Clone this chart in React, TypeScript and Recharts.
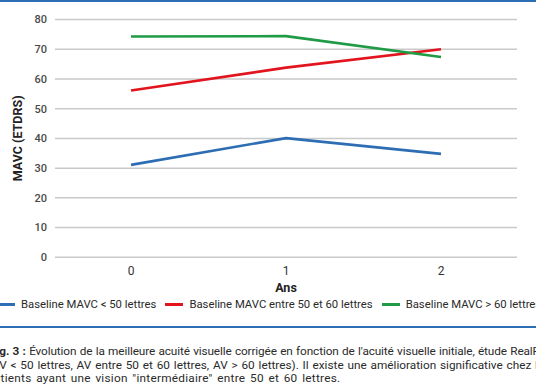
import React from 'react';
import { LineChart, Line, XAxis, YAxis, CartesianGrid, Legend } from 'recharts';

const years = ['0', '1', '2'];
const below50 = [31.1, 40.1, 34.8];
const between50and60 = [56.1, 63.8, 70.0];
const above60 = [74.3, 74.4, 67.4];
const yTicks = [0, 10, 20, 30, 40, 50, 60, 70, 80];

const seriesNames = [
  'Baseline MAVC < 50 lettres',
  'Baseline MAVC entre 50 et 60 lettres',
  'Baseline MAVC > 60 lettres',
];
const seriesKeys = ['below50', 'between', 'above60'];
const seriesColors = ['#2d6db3', '#e2141d', '#1f9a45'];

const data = years.map((y, i) => ({
  year: y,
  below50: below50[i],
  between: between50and60[i],
  above60: above60[i],
}));

const FONT = 'Roboto, "Noto Sans", sans-serif';

const YLabel = (props: any) => {
  const vb = props.viewBox || { x: 0, y: 0, width: 0, height: 0 };
  const cx = vb.x + 17.5;
  const cy = vb.y + vb.height / 2;
  return (
    <text
      x={cx}
      y={cy}
      transform={`rotate(-90 ${cx} ${cy})`}
      textAnchor="middle"
      dominantBaseline="central"
      fontSize={12.5}
      fontWeight={700}
      fill="#222"
      fontFamily={FONT}
    >
      MAVC (ETDRS)
    </text>
  );
};

const LegendContent = () => (
  <div style={{ display: 'flex', alignItems: 'center', whiteSpace: 'nowrap', fontFamily: FONT, fontSize: 11.3, color: '#2a2a2a' }}>
    {seriesNames.map((n, i) => (
      <div key={n} style={{ display: 'flex', alignItems: 'center', marginRight: 9 }}>
        <span style={{ display: 'inline-block', width: 18, height: 3, background: seriesColors[i], marginRight: 6 }} />
        <span>{n}</span>
      </div>
    ))}
  </div>
);

const captionStyle: React.CSSProperties = {
  position: 'absolute',
  whiteSpace: 'nowrap',
  fontFamily: FONT,
  fontSize: 11.8,
  lineHeight: '13.6px',
  color: '#2b2b2b',
};

export default function App() {
  return (
    <div style={{ position: 'fixed', left: 0, top: 0, width: 536, height: 386, overflow: 'hidden', background: '#fff' }}>
      <div style={{ position: 'absolute', left: 0, top: 0, width: 536, height: 2, background: '#2d6db3' }} />
      <div style={{ position: 'absolute', left: 0, top: 0 }}>
        <LineChart
          width={536}
          height={320}
          data={data}
          margin={{ top: 19.5, right: 19, left: 0, bottom: 12.7 }}
        >
          <CartesianGrid vertical={false} stroke="#c9c9c9" strokeWidth={1.5} />
          <XAxis
            dataKey="year"
            axisLine={false}
            tickLine={false}
            padding={{ left: 76, right: 76 }}
            height={50}
            tickMargin={3}
            tick={{ fontSize: 12, fill: '#333', fontFamily: FONT }}
            label={{ value: 'Ans', position: 'insideBottom', offset: 15, fontSize: 12.5, fontWeight: 700, fill: '#222', fontFamily: FONT }}
          />
          <YAxis
            domain={[0, 80]}
            ticks={yTicks}
            width={55}
            axisLine={false}
            tickLine={false}
            tick={{ fontSize: 11, fill: '#4a4a4a', fontWeight: 500, fontFamily: FONT }}
            label={<YLabel />}
          />
          {seriesKeys.map((k, i) => (
            <Line
              key={k}
              type="linear"
              dataKey={k}
              name={seriesNames[i]}
              stroke={seriesColors[i]}
              strokeWidth={2.6}
              dot={false}
              activeDot={false}
              isAnimationActive={false}
            />
          ))}
          <Legend
            layout="horizontal"
            verticalAlign="middle"
            align="center"
            content={<LegendContent />}
            wrapperStyle={{ position: 'absolute', left: -3, top: 298, width: 620, height: 16 }}
          />
        </LineChart>
      </div>
      <div style={{ position: 'absolute', left: 0, top: 326, width: 536, height: 2, background: '#2d6db3' }} />
      <div style={{ ...captionStyle, left: -10, top: 345, width: 549, textAlign: 'justify', textAlignLast: 'justify', letterSpacing: -0.12, wordSpacing: -0.6 }}>
        <b>Fig. 3 :</b> Évolution de la meilleure acuité visuelle corrigée en fonction de l'acuité visuelle initiale, étude RealF
      </div>
      <div style={{ ...captionStyle, left: -12, top: 358.6, width: 550, textAlign: 'justify', textAlignLast: 'justify' }}>
        (AV &lt; 50 lettres, AV entre 50 et 60 lettres, AV &gt; 60 lettres). Il existe une amélioration significative chez l
      </div>
      <div style={{ ...captionStyle, left: -13, top: 372.2, letterSpacing: 0.25, wordSpacing: 1.5 }}>
        patients ayant une vision "intermédiaire" entre 50 et 60 lettres.
      </div>
    </div>
  );
}
